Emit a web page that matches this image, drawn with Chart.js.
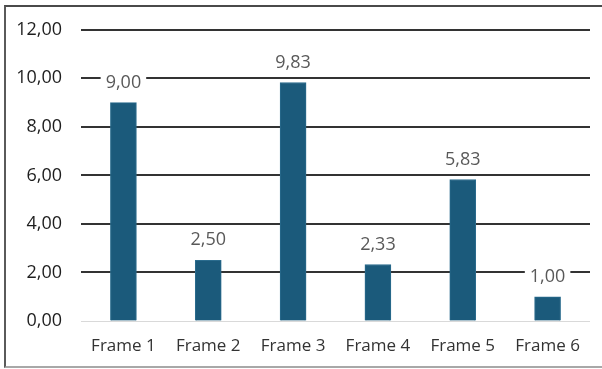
<!DOCTYPE html>
<html>
<head>
<meta charset="utf-8">
<script src="https://cdn.jsdelivr.net/npm/chart.js@4/dist/chart.umd.min.js"></script>
<style>
  html, body { margin: 0; padding: 0; background: #ffffff; overflow: hidden; }
  #wrap { position: relative; width: 602px; height: 369px; }
  #frame {
    position: absolute; left: 4px; top: 5px; width: 620px; height: 359px;
    border-left: 2px solid #5a5a5a; border-top: 2px solid #4a4a4a; border-bottom: 2px solid #a8a8a8;
    pointer-events: none;
  }
  canvas { position: absolute; left: 0; top: 0; }
</style>
</head>
<body>
<div id="wrap">
  <canvas id="chart" width="602" height="369"></canvas>
  <div id="frame"></div>
</div>
<script>
// Categories and values
const categories = ['Frame 1', 'Frame 2', 'Frame 3', 'Frame 4', 'Frame 5', 'Frame 6'];
const values = [9.00, 2.50, 9.83, 2.33, 5.83, 1.00];
const yTicks = [0, 2, 4, 6, 8, 10, 12];

const fmt = v => v.toFixed(2).replace('.', ',');
const FONT = '"Open Sans", "Noto Sans", sans-serif';

// Value labels above each bar, on a white box that breaks the gridlines
const valueLabels = {
  id: 'valueLabels',
  afterDatasetsDraw(chart) {
    const ctx = chart.ctx;
    const meta = chart.getDatasetMeta(0);
    ctx.save();
    ctx.font = '18px ' + FONT;
    ctx.textAlign = 'center';
    ctx.textBaseline = 'middle';
    meta.data.forEach((bar, i) => {
      const txt = fmt(values[i]);
      const w = ctx.measureText(txt).width + 10;
      const cy = bar.y - 20;
      ctx.fillStyle = '#ffffff';
      ctx.fillRect(bar.x - w / 2, cy - 11, w, 22);
      ctx.fillStyle = '#595959';
      ctx.fillText(txt, bar.x, cy);
    });
    ctx.restore();
  }
};

new Chart(document.getElementById('chart'), {
  type: 'bar',
  data: {
    labels: categories,
    datasets: [{
      data: values,
      backgroundColor: '#1b5a7b',
      borderColor: '#2b6c8e',
      borderWidth: 1,
      barThickness: 26
    }]
  },
  options: {
    responsive: false,
    animation: false,
    devicePixelRatio: 1,
    layout: { padding: { top: 27, right: 12, left: 0, bottom: 0 } },
    plugins: { legend: { display: false }, tooltip: { enabled: false } },
    scales: {
      x: {
        grid: { display: false, drawTicks: false },
        border: { display: false },
        ticks: { color: '#333333', font: { family: FONT, size: 17 }, padding: 15 },
        afterFit(scale) { scale.height = 48; }
      },
      y: {
        min: 0,
        max: 12,
        afterBuildTicks(scale) { scale.ticks = yTicks.map(v => ({ value: v })); },
        grid: {
          drawTicks: false,
          color: c => (c.tick && c.tick.value === 0) ? '#d9d9d9' : '#333333',
          lineWidth: c => (c.tick && c.tick.value === 0) ? 1 : 2
        },
        border: { display: false },
        ticks: {
          color: '#1e1e1e',
          font: { family: FONT, size: 18 },
          padding: 19,
          callback: v => fmt(v)
        },
        afterFit(scale) { scale.width = 81; }
      }
    }
  },
  plugins: [valueLabels]
});
</script>
</body>
</html>
